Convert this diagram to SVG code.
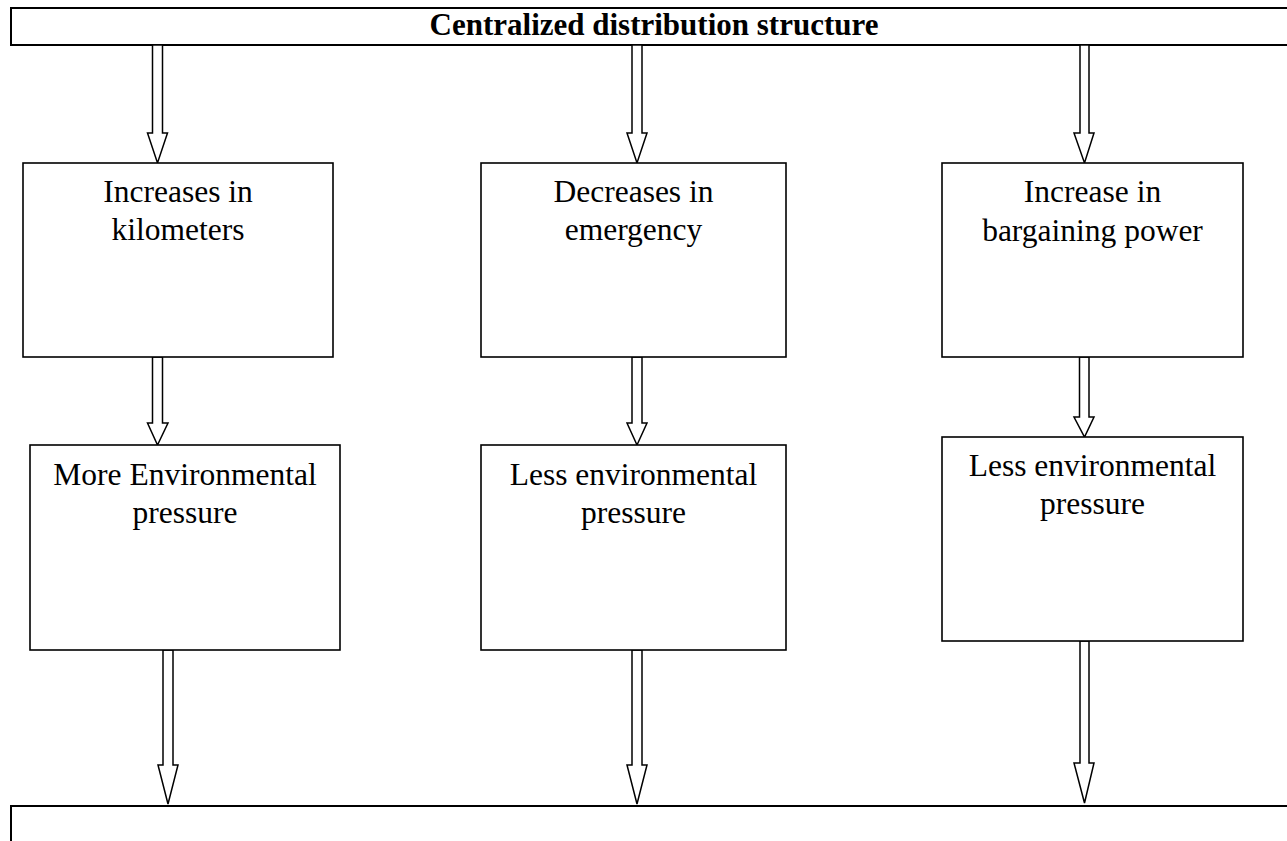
<svg xmlns="http://www.w3.org/2000/svg" width="1287" height="841" viewBox="0 0 1287 841">
<style>
.box{fill:#fff;stroke:#000;stroke-width:1.6}
.ban{fill:#fff;stroke:#000;stroke-width:2}
.arr{fill:#fff;stroke:#000;stroke-width:1.5;stroke-linejoin:miter}
text{font-family:"Liberation Serif","Times New Roman",serif;font-size:31.5px;fill:#000;text-anchor:middle}
.t{font-weight:bold;font-size:31px}
</style>
<rect width="1287" height="841" fill="#fff"/>
<g id="top">
<rect class="ban" x="11" y="8" width="1300" height="37"/>
<text class="t" x="654" y="35">Centralized distribution structure</text>
</g>
<g id="bottom">
<rect class="ban" x="11" y="806" width="1300" height="60"/>
</g>
<g id="connectors">
<polygon class="arr" points="152.5,45 162.5,45 162.5,133 167.5,133 157.5,163 147.5,133 152.5,133"/>
<polygon class="arr" points="632,45 642,45 642,133 647,133 637,163 627,133 632,133"/>
<polygon class="arr" points="1080,45 1089,45 1089,133 1094,133 1084.5,163 1074,133 1080,133"/>
<polygon class="arr" points="152.5,357 162.5,357 162.5,423 168,423 157.5,445 147.5,423 152.5,423"/>
<polygon class="arr" points="632,357 642,357 642,423 647,423 637,445 627,423 632,423"/>
<polygon class="arr" points="1079.5,357 1089,357 1089,417 1094,417 1084.5,437 1074,417 1079.5,417"/>
<polygon class="arr" points="163,650 173,650 173,765 178,765 168,804 158,765 163,765"/>
<polygon class="arr" points="632,650 642,650 642,765 647,765 637,804 627,765 632,765"/>
<polygon class="arr" points="1080,641 1089,641 1089,763 1094,763 1084.5,803 1074,763 1080,763"/>
</g>
<g id="n1">
<rect class="box" x="23" y="163" width="310" height="194"/>
<text x="178" y="202">Increases in</text>
<text x="178" y="240">kilometers</text>
</g>
<g id="n2">
<rect class="box" x="481" y="163" width="305" height="194"/>
<text x="633.5" y="202">Decreases in</text>
<text x="633.5" y="240">emergency</text>
</g>
<g id="n3">
<rect class="box" x="942" y="163" width="301" height="194"/>
<text x="1092.5" y="202">Increase in</text>
<text x="1092.5" y="241">bargaining power</text>
</g>
<g id="n4">
<rect class="box" x="30" y="445" width="310" height="205"/>
<text x="185" y="485">More Environmental</text>
<text x="185" y="523">pressure</text>
</g>
<g id="n5">
<rect class="box" x="481" y="445" width="305" height="205"/>
<text x="633.5" y="485">Less environmental</text>
<text x="633.5" y="523">pressure</text>
</g>
<g id="n6">
<rect class="box" x="942" y="437" width="301" height="204"/>
<text x="1092.5" y="476">Less environmental</text>
<text x="1092.5" y="514">pressure</text>
</g>
</svg>
